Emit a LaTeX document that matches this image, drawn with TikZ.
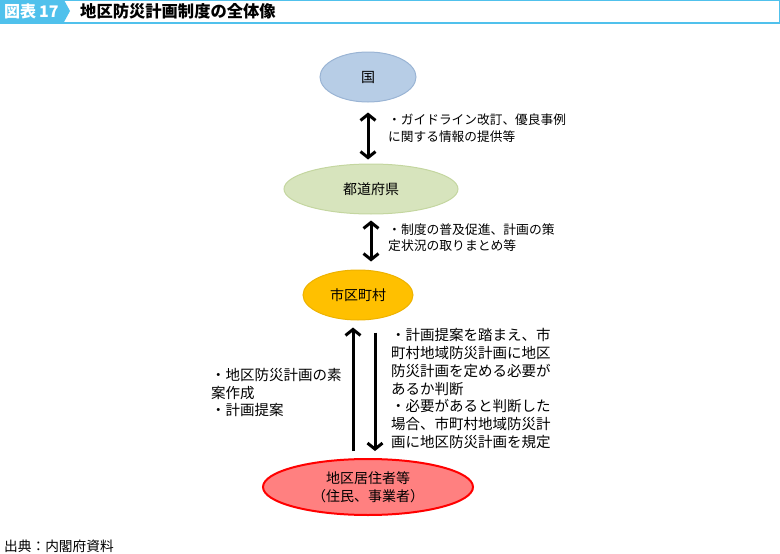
\documentclass[tikz,border=0pt]{standalone}
\usepackage{fontspec}
\setmainfont{Noto Sans CJK JP}
\usepackage{xcolor}
\usepackage{tikz}
\usetikzlibrary{calc}
\usetikzlibrary{shapes.geometric, positioning, arrows.meta}

\definecolor{headblue}{HTML}{50C1EC}
\definecolor{kunifill}{HTML}{B7CDE6}
\definecolor{kuniline}{HTML}{9AB4D4}
\definecolor{kenfill}{HTML}{D7E4BD}
\definecolor{kenline}{HTML}{C4D6A0}
\definecolor{shifill}{HTML}{FFC000}
\definecolor{shiline}{HTML}{EDB200}
\definecolor{chikufill}{HTML}{FF8080}

\begin{document}
\begin{tikzpicture}[x=1pt,y=-1pt,-,auto,
                    main node/.style={ellipse,draw,inner sep=0pt,line width=1pt,align=center,
                                      font=\fontsize{14}{18}\selectfont},
                    note/.style={inner sep=0pt,align=left,anchor=west},
                    link/.style={line width=3pt,{Straight Barb[length=6pt,width=15pt]}-{Straight Barb[length=6pt,width=15pt]}},
                    oneway/.style={line width=3pt,-{Straight Barb[length=6pt,width=15pt]}}]

  \useasboundingbox (0,0) rectangle (780,554);

  % header
  \fill[headblue] (0,0) -- (64,0) -- (70,11) -- (64,22) -- (0,22) -- cycle;
  \draw[headblue,line width=1pt] (64,0.5) -- (779.5,0.5) -- (779.5,22);
  \draw[headblue,line width=2pt] (0,23) -- (780,23);
  \node[note,text=white,font=\fontsize{16}{16}\selectfont\bfseries] (10) at (4,11) {図表\hspace{3pt}17};
  \node[note,font=\fontsize{16.3}{16}\selectfont\bfseries] (11) at (80,11) {地区防災計画制度の全体像};

  \node[main node,fill=kunifill,draw=kuniline,minimum width=96pt,minimum height=50pt] (1) at (368,77) {国};
  \node[main node,fill=kenfill,draw=kenline,minimum width=174pt,minimum height=50pt] (2) at (371,189) {都道府県};
  \node[main node,fill=shifill,draw=shiline,minimum width=110pt,minimum height=50pt] (3) at (358,295) {市区町村};
  \node[main node,fill=chikufill,draw=red,line width=2pt,minimum width=210pt,minimum height=56pt] (4) at (368,487) {地区居住者等\\（住民、事業者）};

  \node[note,font=\fontsize{12.7}{17}\selectfont] (5) at (388,128.5) {・ガイドライン改訂、優良事例\\に関する情報の提供等};
  \node[note,font=\fontsize{12.8}{16}\selectfont] (6) at (388,237.5) {・制度の普及促進、計画の策\\定状況の取りまとめ等};
  \node[note,font=\fontsize{14.5}{17.8}\selectfont] (7) at (391,388.5) {・計画提案を踏まえ、市\\町村地域防災計画に地区\\防災計画を定める必要が\\あるか判断\\・必要があると判断した\\場合、市町村地域防災計\\画に地区防災計画を規定};
  \node[note,font=\fontsize{14.5}{17.5}\selectfont] (8) at (211,392.5) {・地区防災計画の素\\案作成\\・計画提案};

  \node[note,font=\fontsize{13.7}{16}\selectfont] (9) at (4,546) {出典：内閣府資料};

  \path[link]
    (1.south) edge[shorten <=10pt,shorten >=4pt] (1.south |- 2.north)
    (2.south) edge[shorten <=6pt,shorten >=8pt] (2.south |- 3.north);

  \path[oneway]
    ([xshift=-5pt]3.south |- 4.north) edge[shorten <=7pt,shorten >=7pt] ([xshift=-5pt]3.south)
    ([xshift=17pt]3.south) edge[shorten <=12pt,shorten >=7pt] ([xshift=17pt]3.south |- 4.north);

\end{tikzpicture}
\end{document}
